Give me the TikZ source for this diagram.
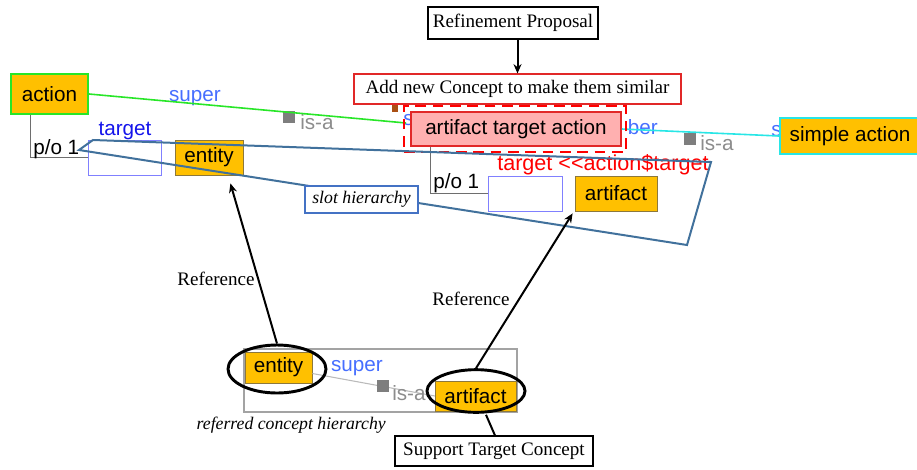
\documentclass[tikz,border=0pt]{standalone}
\usepackage{fontspec}
\setmainfont{Liberation Serif}
\setsansfont{Liberation Sans}
\usetikzlibrary{arrows.meta,shapes.geometric,calc}

\definecolor{conceptfill}{RGB}{255,192,0}
\definecolor{conceptedge}{RGB}{140,120,60}
\definecolor{actiongreen}{RGB}{40,230,40}
\definecolor{simplecyan}{RGB}{40,230,230}
\definecolor{newfill}{RGB}{255,176,176}
\definecolor{newedge}{RGB}{225,40,40}
\definecolor{superblue}{RGB}{70,110,255}
\definecolor{targetblue}{RGB}{20,20,235}
\definecolor{isagray}{RGB}{140,140,140}
\definecolor{slotblue}{RGB}{68,114,196}
\definecolor{polyblue}{RGB}{65,113,156}
\definecolor{emptyblue}{RGB}{128,128,255}
\definecolor{partgray}{RGB}{110,110,110}
\definecolor{markbrown}{RGB}{170,80,20}

\newcommand\sansfnt{\sffamily\fontsize{15.5}{18}\selectfont}
\newcommand\redfnt{\sffamily\fontsize{16.2}{18}\selectfont}
\newcommand\seriffnt{\rmfamily\fontsize{14.3}{16}\selectfont}
\newcommand\italfnt{\rmfamily\itshape\fontsize{13.3}{16}\selectfont}

\begin{document}
\begin{tikzpicture}[x=0.75pt,y=-0.75pt,
  sz/.style 2 args={minimum width=#1*0.75pt, minimum height=#2*0.75pt, inner sep=0pt},
  concept/.style={draw=conceptedge, fill=conceptfill, font=\sansfnt, line width=0.6pt},
  emptyslot/.style={draw=emptyblue, fill=white, line width=0.6pt},
  label/.style={draw=black, fill=white, font=\seriffnt, line width=0.8pt},
  superlbl/.style={text=superblue, font=\sansfnt, inner sep=0pt},
  isalbl/.style={text=isagray, font=\sansfnt, inner sep=0pt},
  isamark/.style={fill=isagray!90!black, minimum size=9pt, inner sep=0pt},
  partof/.style={draw=partgray, line width=0.6pt},
  refarrow/.style={draw=black, line width=1.5pt, -{Stealth[length=7pt,width=6pt]}},
  ring/.style={ellipse, draw=black, line width=2.2pt, inner sep=0pt}
]
\path[use as bounding box] (0,0) rectangle (917,469);

% part-of brackets
\draw[partof] (30,114) -- (30,157) -- (88,157);
\node[anchor=base west, font=\sansfnt, inner sep=0pt] (po1) at (33,154) {p/o 1};
\draw[partof] (430,146) -- (430,193) -- (488,193);
\node[anchor=base west, font=\sansfnt, inner sep=0pt] (po2) at (433,188) {p/o 1};

% slot name above the first empty slot
\node[text=targetblue, font=\sansfnt, inner sep=0pt] (tname) at (125,131) {target};

% is-a links (labels partly covered by the concept boxes)
\coordinate (gEnd) at (406,123);
\node[isamark] (sq1) at (289,117) {};
\node[isalbl, anchor=west] (isa1) at (300,122) {is-a};
\node[superlbl] (sup1) at (195,98) {super};
\node[superlbl, anchor=west] (sup2) at (403,120) {s};
\node[superlbl, anchor=east] (sup3) at (658,127) {ber};
\node[isamark] (sq2) at (690,139) {};
\node[isalbl, anchor=west] (isa2) at (700,143) {is-a};
\node[superlbl, anchor=west] (sup4) at (771,131) {s};
\node[fill=markbrown, minimum width=5pt, minimum height=6pt, inner sep=0pt] (mark) at (395,108) {};

% concepts of the upper hierarchy
\node[concept, sz={77}{40}, draw=actiongreen, line width=1.5pt] (action) at (49.5,94) {action};
\node[emptyslot, sz={73}{35}] (slot1) at (124.5,157.5) {};
\node[concept, sz={68}{35}] (entity1) at (209,157.5) {entity};
\node[concept, sz={140}{36}, draw=simplecyan, line width=1.5pt] (simple) at (850,136) {simple action};
\draw[actiongreen, line width=1.2pt] (action.east) -- (gEnd);
\node[draw=newedge, fill=newfill, line width=1.2pt, font=\sansfnt, sz={210}{34}] (ata) at (516,129) {artifact target action};
\draw[simplecyan, line width=1.2pt] (ata.east) -- (simple.west);
\node[draw=red, dash pattern=on 8pt off 5pt, line width=2.2pt, sz={222}{46}] (newbox) at (515,129) {};
\node[emptyslot, sz={74}{35}] (slot2) at (525,193.5) {};
\node[concept, sz={82}{35}] (artifact1) at (616,193.5) {artifact};

% refinement proposal
\node[label, sz={170}{32}] (refine) at (513,23) {Refinement Proposal};
\node[label, draw=newedge, sz={327}{30}] (addnew) at (517.5,89) {Add new Concept to make them similar};
\draw[line width=1.5pt, -{Stealth[length=7pt,width=6pt]}] (refine.south -| addnew.north) -- (addnew.north);

% inherited slot constraint
\node[text=red, font=\redfnt, inner sep=0pt, anchor=west] (constraint) at (497,165) {target {<}{<}action\$target};

% slot hierarchy outline
\draw[polyblue, line width=1.5pt, line join=miter] (79,150) -- (93,140) -- (711,162) -- (687,245) -- cycle;
\node[draw=slotblue, fill=white, line width=1.5pt, font=\italfnt, sz={113}{27}] (slothier) at (361.5,199.5) {slot hierarchy};

% referred concept hierarchy
\node[draw=isagray!80, line width=0.8pt, sz={273}{63}] (hier) at (380.5,380.5) {};
\node[concept, sz={67}{31}] (entity2) at (278.5,367.5) {entity};
\node[superlbl] (sup5) at (357,368) {super};
\draw[isagray!60, line width=0.8pt] ($(entity2.east)+(0,6)$) -- (435,396);
\node[isamark] (sq3) at (383,386) {};
\node[isalbl, anchor=west] (isa3) at (392,393) {is-a};
\node[concept, sz={81}{30}] (artifact2) at (475.5,396) {artifact};
\node[ring, minimum width=73.5pt, minimum height=36pt] (ring1) at (277,369) {};
\node[ring, minimum width=73.5pt, minimum height=32pt] (ring2) at (476,391) {};
\node[font=\italfnt, anchor=east, inner sep=0pt] (hiername) at (386,425) {referred concept hierarchy};

% references from the hierarchy to the slot fillers
\draw[refarrow] (ring1.north) -- ($(entity1.south east)+(-13,8)$);
\node[font=\seriffnt, inner sep=0pt] (refl1) at (216,279) {Reference};
\draw[refarrow] (ring2.north) -- ($(artifact1.south west)+(-2,2)$);
\node[font=\seriffnt, inner sep=0pt] (refl2) at (471,299) {Reference};

% support target concept
\node[label, sz={198}{30}] (support) at (494,451) {Support Target Concept};
\draw[line width=1.5pt] ($(support.north)+(1,0)$) -- ($(ring2.south)+(10,1)$);
\end{tikzpicture}
\end{document}
